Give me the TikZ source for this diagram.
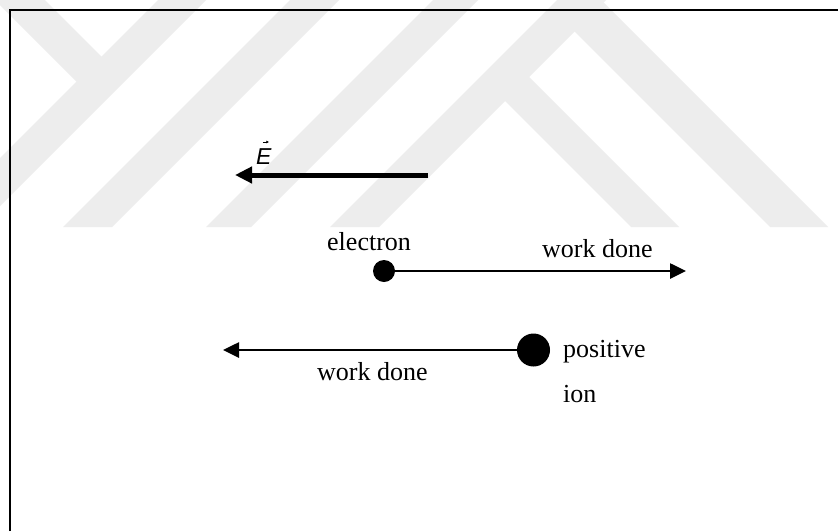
\documentclass[tikz,border=0pt]{standalone}
\usepackage{fontspec}
\setmainfont{Liberation Serif}
\setsansfont{Liberation Sans}
\usetikzlibrary{arrows.meta}
\begin{document}
\begin{tikzpicture}[x=1pt,y=-1pt,
  wm/.style={fill=black!7, draw=none},
  frameline/.style={line width=1.6pt, draw=black},
  lbl/.style={font=\fontsize{26}{30}\selectfont, inner sep=0pt, anchor=base west},
  dot/.style={circle, fill=black, draw=none, inner sep=0pt},
  thinarrow/.style={line width=2.6pt, -{Triangle[length=16pt,width=15pt]}},
  fieldarrow/.style={line width=5pt, -{Triangle[length=17pt,width=16pt]}},
  vecarrow/.style={line width=0.7pt, -{Triangle[length=2.5pt,width=2.5pt]}}
]
\useasboundingbox (0,0) rectangle (838,531);
\fill[white] (0,0) rectangle (838,531);
% watermark
\begin{scope}
  \clip (0,0) rectangle (838,227);
  \foreach \a/\b in {158/206, 290/339, 433/478, 557/606} {
    \fill[wm] ({\a-227},227) -- ({\b-227},227) -- ({\b+50},-50) -- ({\a+50},-50) -- cycle;
  }
  \fill[wm] (-55,-50) -- (-5,-50) -- (113.5,68.5) -- (88.5,93.5) -- cycle;
  \fill[wm] (492,88) -- (516,64) -- (679,227) -- (631,227) -- cycle;
  \fill[wm] (561.5,18.5) -- (590.5,-10.5) -- (828,227) -- (770,227) -- cycle;
\end{scope}
% frame
\draw[frameline] (10,531) -- (10,10) -- (838,10);
% field
\coordinate (Estart) at (428,175);
\coordinate (Etip) at (235,175);
\draw[fieldarrow] (Estart) -- (Etip);
\node[inner sep=0pt, anchor=base west, font=\fontsize{23}{27}\selectfont\sffamily\itshape] (Elbl) at (256,164) {E};
\coordinate (vecA) at ([xshift=-1pt,yshift=6pt]Elbl.north);
\coordinate (vecB) at ([xshift=5pt,yshift=6pt]Elbl.north);
\draw[vecarrow] (vecA) -- (vecB);
% electron
\node[dot, minimum size=22pt] (electron) at (384,271) {};
\coordinate (etip) at (686,271);
\draw[thinarrow] (electron) -- (etip);
\node[lbl] (electronlbl) at (327,250) {electron};
\node[lbl] (wd1) at (542,257) {work done};
% positive ion
\node[dot, minimum size=33pt] (ion) at (533.5,350) {};
\coordinate (itip) at (223,350);
\draw[thinarrow] (ion) -- (itip);
\node[lbl] (wd2) at (317,380) {work done};
\node[lbl] (poslbl) at (563,357) {positive};
\node[lbl] (ionlbl) at (563,402) {ion};
\end{tikzpicture}
\end{document}
